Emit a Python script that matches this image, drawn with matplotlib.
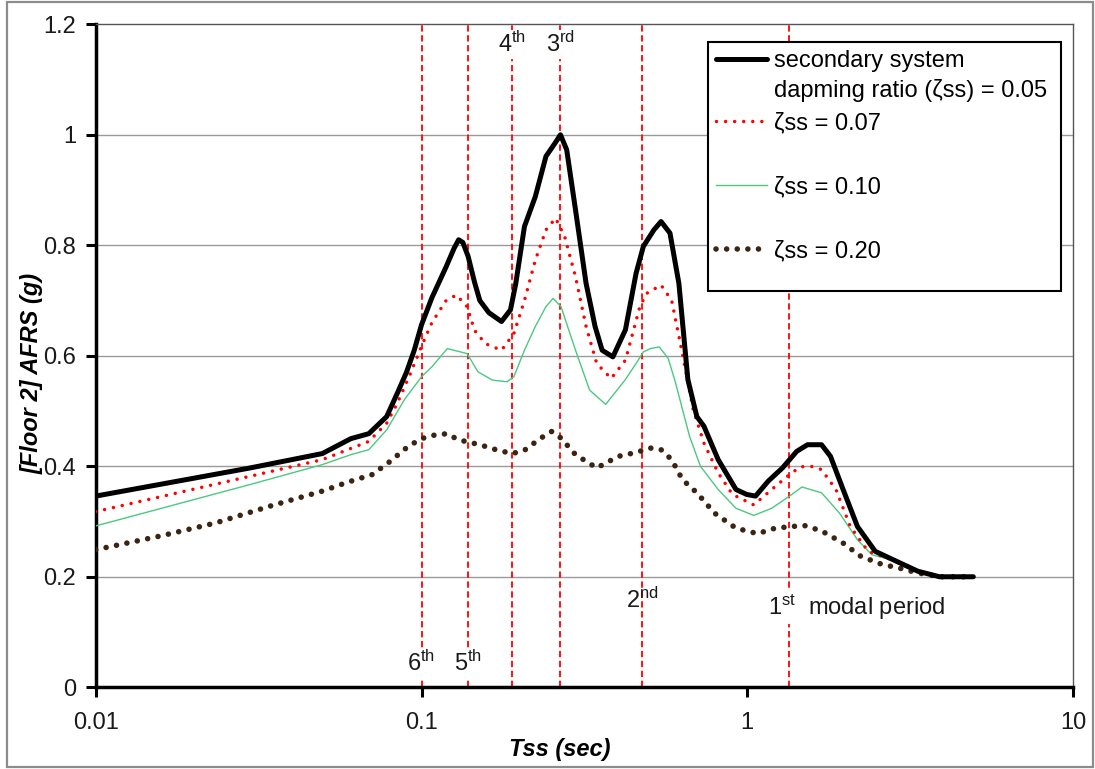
import matplotlib
matplotlib.use("Agg")
import matplotlib.pyplot as plt
from matplotlib.patches import Rectangle
from matplotlib.lines import Line2D

plt.rcParams['font.family'] = ['Liberation Sans', 'DejaVu Sans']
plt.rcParams['mathtext.fontset'] = 'custom'
plt.rcParams['mathtext.rm'] = 'Liberation Sans'
plt.rcParams['mathtext.it'] = 'Liberation Sans:italic'

# Curvas (periodo Tss en s, AFRS en g)
t_005 = [0.01, 0.0298, 0.0496, 0.0607, 0.0689, 0.0782, 0.0844, 0.0899, 0.095, 0.1, 0.1076,
         0.119, 0.126, 0.130, 0.134, 0.139, 0.1455, 0.151, 0.161, 0.176, 0.1875, 0.1946, 0.207,
         0.2235, 0.241, 0.257, 0.267, 0.279, 0.297, 0.320, 0.341, 0.3585, 0.3867,
         0.4226, 0.4555, 0.4797, 0.517, 0.5436, 0.579, 0.6166, 0.657, 0.700, 0.736,
         0.814, 0.923, 0.9956, 1.06, 1.159, 1.282, 1.418, 1.53, 1.69, 1.80,
         1.968, 2.178, 2.47, 2.87, 3.34, 3.89, 4.94]
a_005 = [0.346, 0.397, 0.423, 0.45, 0.459, 0.49, 0.533, 0.57, 0.61, 0.656, 0.705,
         0.761, 0.795, 0.81, 0.805, 0.78, 0.733, 0.70, 0.678, 0.662, 0.683, 0.73, 0.834,
         0.888, 0.961, 0.985, 1.0, 0.973, 0.864, 0.731, 0.653, 0.61, 0.598,
         0.647, 0.749, 0.798, 0.828, 0.843, 0.822, 0.731, 0.557, 0.49, 0.4725,
         0.412, 0.358, 0.349, 0.346, 0.373, 0.397, 0.427, 0.439, 0.439, 0.418,
         0.358, 0.291, 0.246, 0.228, 0.21, 0.2, 0.2]

t_007 = [0.01, 0.0298, 0.0496, 0.0689, 0.0782, 0.0844, 0.092, 0.1, 0.1076, 0.119, 0.128,
         0.138, 0.1455, 0.157, 0.176, 0.192, 0.207, 0.2235, 0.241, 0.258, 0.275,
         0.297, 0.320, 0.345, 0.382, 0.4226, 0.468, 0.491, 0.5436, 0.586, 0.632,
         0.682, 0.736, 0.814, 0.9006, 1.047, 1.188, 1.348, 1.454, 1.568, 1.69,
         1.871, 2.07, 2.35, 2.87, 3.34, 3.89, 4.94]
a_007 = [0.318, 0.382, 0.412, 0.445, 0.478, 0.515, 0.565, 0.617, 0.66, 0.70, 0.71,
         0.689, 0.646, 0.622, 0.61, 0.64, 0.70, 0.773, 0.828, 0.849, 0.816,
         0.743, 0.653, 0.586, 0.559, 0.592, 0.689, 0.713, 0.728, 0.70, 0.604,
         0.503, 0.442, 0.388, 0.349, 0.330, 0.358, 0.385, 0.399, 0.40, 0.394,
         0.358, 0.291, 0.246, 0.228, 0.21, 0.2, 0.2]

t_010 = [0.01, 0.0298, 0.0496, 0.0607, 0.0689, 0.0782, 0.0887, 0.1, 0.1076, 0.12,
         0.138, 0.149, 0.165, 0.183, 0.192, 0.207, 0.2235, 0.241, 0.2535, 0.268,
         0.297, 0.328, 0.3675, 0.4226, 0.4555, 0.4797, 0.504, 0.537, 0.572, 0.601,
         0.665, 0.718, 0.814, 0.923, 1.047, 1.188, 1.348, 1.472, 1.69, 1.92,
         2.178, 2.41, 2.87, 3.34, 3.89, 4.94]
a_010 = [0.292, 0.367, 0.403, 0.421, 0.430, 0.466, 0.521, 0.562, 0.58, 0.613,
         0.604, 0.571, 0.556, 0.553, 0.562, 0.61, 0.653, 0.689, 0.704, 0.689,
         0.61, 0.538, 0.512, 0.557, 0.586, 0.607, 0.613, 0.616, 0.595, 0.553,
         0.454, 0.40, 0.358, 0.324, 0.311, 0.324, 0.346, 0.3625, 0.352, 0.315,
         0.267, 0.24, 0.228, 0.21, 0.2, 0.2]

t_020 = [0.01, 0.01586, 0.0232, 0.0348, 0.0496, 0.0592, 0.0706, 0.0802, 0.091, 0.1,
         0.1087, 0.1197, 0.1297, 0.151, 0.1715, 0.19, 0.207, 0.2324, 0.251, 0.268,
         0.297, 0.345, 0.402, 0.4555, 0.504, 0.5436, 0.586, 0.632, 0.700, 0.794,
         0.923, 1.075, 1.219, 1.492, 1.69, 1.968, 2.23, 2.60, 2.87, 3.34,
         3.89, 4.94]
a_020 = [0.249, 0.274, 0.297, 0.329, 0.355, 0.371, 0.385, 0.409, 0.436, 0.45,
         0.456, 0.459, 0.448, 0.439, 0.429, 0.423, 0.429, 0.451, 0.463, 0.451,
         0.421, 0.397, 0.418, 0.425, 0.433, 0.430, 0.412, 0.376, 0.352, 0.315,
         0.288, 0.278, 0.288, 0.293, 0.283, 0.261, 0.237, 0.222, 0.217, 0.207,
         0.2, 0.2]

# Periodos modales (líneas verticales)
modal_t = [1.339, 0.475, 0.267, 0.189, 0.139, 0.1]
modal_lbl = ['1$^{\\mathrm{st}}$  modal period', '2$^{\\mathrm{nd}}$', '3$^{\\mathrm{rd}}$',
             '4$^{\\mathrm{th}}$', '5$^{\\mathrm{th}}$', '6$^{\\mathrm{th}}$']
lbl_y = [0.144, 0.158, 1.163, 1.163, 0.044, 0.044]
lbl_box = [True, False, True, True, True, True]

fig = plt.figure(figsize=(10.95, 7.69), dpi=100)
ax = fig.add_axes([0.0874, 0.1063, 0.8926, 0.8621])

# borde exterior tipo Excel
fig.patches.append(Rectangle((0.006, 0.003), 0.992, 0.994, transform=fig.transFigure,
                             fill=False, edgecolor='#8c8c8c', lw=1.6))

for y in [0.2, 0.4, 0.6, 0.8, 1.0]:
    ax.axhline(y, color='#9a9a9a', lw=1.0, zorder=1)

for t in modal_t:
    ax.axvline(t, color='red', lw=1.3, ls=(0, (3.5, 2.0)), zorder=2)

l20, = ax.plot(t_020, a_020, color='#3b2412', lw=4.0, ls=(0, (0.01, 1.9)),
               dash_capstyle='round', zorder=3)
l10, = ax.plot(t_010, a_010, color='#4cc880', lw=1.0, zorder=4)
l07, = ax.plot(t_007, a_007, color='red', lw=2.5, ls=(0, (0.01, 2.6)),
               dash_capstyle='round', zorder=5)
l05, = ax.plot(t_005, a_005, color='black', lw=3.6, solid_capstyle='round',
               solid_joinstyle='round', zorder=6)

for t, s, y, b in zip(modal_t, modal_lbl, lbl_y, lbl_box):
    if s.startswith('1'):
        kw = dict(ha='left', x=t * 0.865)
    else:
        kw = dict(ha='center', x=t)
    bb = dict(facecolor='white', edgecolor='none', pad=1.5) if b else None
    ax.text(kw['x'], y, s, ha=kw['ha'], va='center', fontsize=17, color='#1a1a1a',
            bbox=bb, zorder=7)

ax.set_xscale('log')
ax.set_xlim(0.01, 10)
ax.set_ylim(0, 1.2)
ax.set_xticks([0.01, 0.1, 1, 10])
ax.set_xticklabels(['0.01', '0.1', '1', '10'])
ax.set_yticks([0, 0.2, 0.4, 0.6, 0.8, 1.0, 1.2])
ax.set_yticklabels(['0', '0.2', '0.4', '0.6', '0.8', '1', '1.2'])
ax.minorticks_off()
ax.tick_params(axis='both', labelsize=17, width=2.2, length=7, direction='out',
               colors='black', labelcolor='#1a1a1a')
ax.tick_params(axis='x', pad=11)
ax.tick_params(axis='y', pad=7)

ax.spines['left'].set_linewidth(2.5)
ax.spines['bottom'].set_linewidth(2.5)
for s in ['top', 'right']:
    ax.spines[s].set_linewidth(1.0)
    ax.spines[s].set_color('#555555')

ax.set_xlabel('Tss (sec)', fontsize=17, fontweight='bold', style='italic')
ax.set_ylabel('[Floor 2] AFRS (g)', fontsize=17, fontweight='bold', style='italic')
ax.xaxis.set_label_coords(0.475, -0.077)
ax.yaxis.set_label_coords(-0.053, 0.474)

# Leyenda al estilo Excel: marco propio y dos bloques con distinto espaciado
leg_kw = dict(loc='upper left', borderaxespad=0, fontsize=17, handlelength=2.15,
              handletextpad=0.3, borderpad=0.35, frameon=False)
blank = Line2D([], [], color='none')
leg1 = ax.legend([l05, blank], ['secondary system', 'dapming ratio (ζss) = 0.05'],
                 bbox_to_anchor=(0.6265, 0.9733), labelspacing=0.28, **leg_kw)
ax.add_artist(leg1)
leg2 = ax.legend([l07, l10, l20], ['ζss = 0.07', 'ζss = 0.10', 'ζss = 0.20'],
                 bbox_to_anchor=(0.6265, 0.8798), labelspacing=1.77, **leg_kw)
ax.add_patch(Rectangle((0.6265, 0.5978), 0.3612, 0.3755, transform=ax.transAxes,
                       fill=True, facecolor='white', edgecolor='black', lw=1.5, zorder=8))
leg1.set_zorder(9)
leg2.set_zorder(9)

fig.savefig('out.png', dpi=100)
